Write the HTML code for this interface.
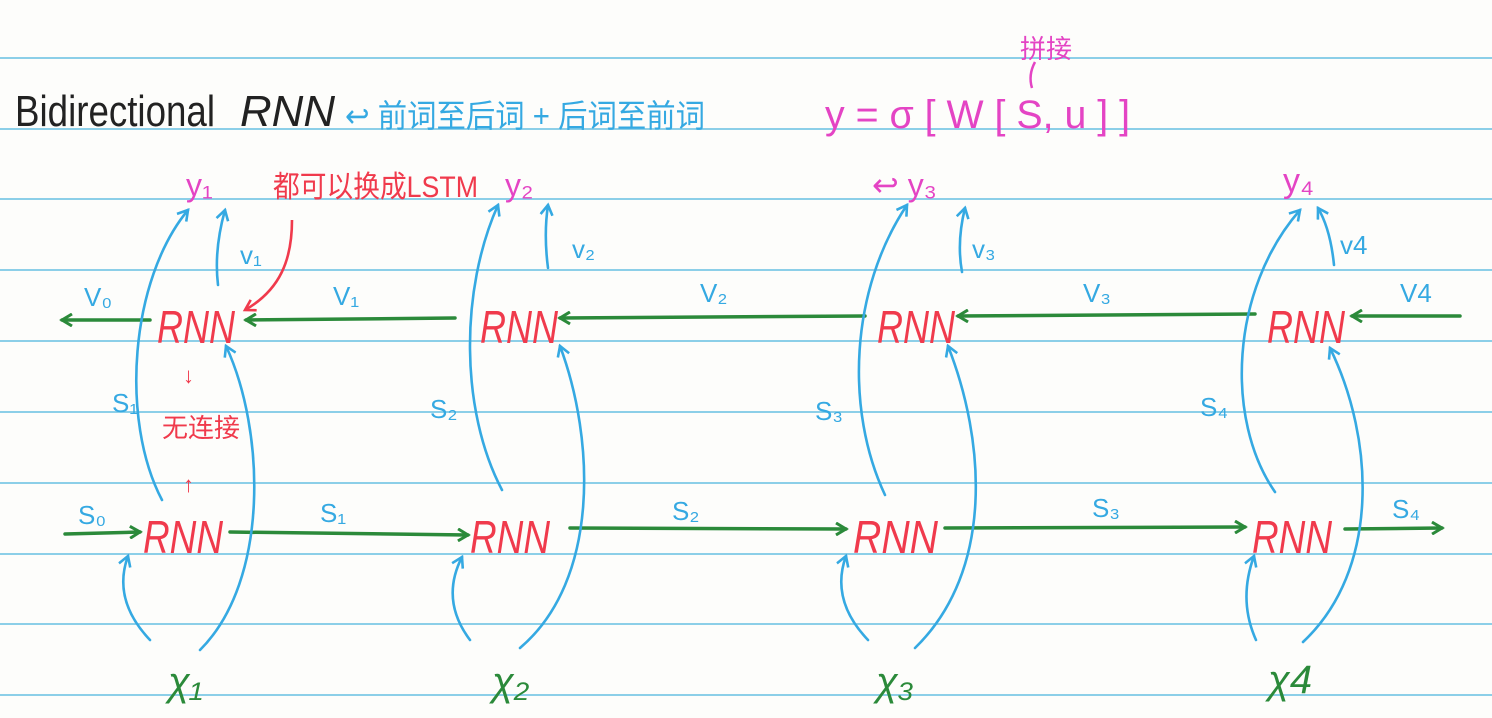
<!DOCTYPE html>
<html><head><meta charset="utf-8"><style>
html,body{margin:0;padding:0;background:#fdfdfb;}
svg{display:block;}
text{font-family:"Liberation Sans","Noto Sans CJK SC",sans-serif;}
.rnn{fill:#f03a4c;font-size:46px;font-style:italic;}
.g{stroke:#2b8a3a;stroke-width:3.5;fill:none;stroke-linecap:round;}
.b{stroke:#35a9e2;stroke-width:2.6;fill:none;stroke-linecap:round;}
.bl{fill:#35a9e2;font-size:26px;}
.pk{fill:#e444c4;}
.gl{fill:#2b8a3a;font-size:40px;font-style:italic;}
</style></head><body>
<svg width="1492" height="718" viewBox="0 0 1492 718" xmlns="http://www.w3.org/2000/svg">
<defs>
<marker id="ag" markerWidth="14" markerHeight="14" refX="11" refY="7" orient="auto" markerUnits="userSpaceOnUse"><polyline points="1,1 11,7 1,13" fill="none" stroke="#2b8a3a" stroke-width="3"/></marker>
<marker id="ab" markerWidth="14" markerHeight="14" refX="11" refY="7" orient="auto" markerUnits="userSpaceOnUse"><polyline points="1,1 11,7 1,13" fill="none" stroke="#35a9e2" stroke-width="2.6"/></marker>
<marker id="ar" markerWidth="14" markerHeight="14" refX="11" refY="7" orient="auto" markerUnits="userSpaceOnUse"><polyline points="1,1 11,7 1,13" fill="none" stroke="#f03a4c" stroke-width="2.6"/></marker>
</defs>
<g stroke="#7cc8e6" stroke-width="1.8">
<line x1="0" y1="58" x2="1492" y2="58"/><line x1="0" y1="129" x2="1492" y2="129"/>
<line x1="0" y1="199" x2="1492" y2="199"/><line x1="0" y1="270" x2="1492" y2="270"/>
<line x1="0" y1="341" x2="1492" y2="341"/><line x1="0" y1="412" x2="1492" y2="412"/>
<line x1="0" y1="483" x2="1492" y2="483"/><line x1="0" y1="554" x2="1492" y2="554"/>
<line x1="0" y1="624" x2="1492" y2="624"/><line x1="0" y1="695" x2="1492" y2="695"/>
</g>
<text x="15" y="126" font-size="44" fill="#222" textLength="200" lengthAdjust="spacingAndGlyphs">Bidirectional</text>
<text x="240" y="126" font-size="44" fill="#222" font-style="italic" textLength="95" lengthAdjust="spacingAndGlyphs">RNN</text>
<text x="345" y="127" font-size="32" fill="#35a9e2" textLength="360" lengthAdjust="spacingAndGlyphs">↩ 前词至后词 + 后词至前词</text>
<text x="825" y="128" font-size="40" class="pk" textLength="305" lengthAdjust="spacingAndGlyphs">y = σ [ W [ S, u ] ]</text>
<text x="1020" y="58" font-size="26" class="pk">拼接</text>
<path d="M1035,62 Q1028,75 1032,88" stroke="#e444c4" stroke-width="2.5" fill="none"/>
<text x="186" y="196" font-size="32" class="pk">y₁</text>
<text x="505" y="196" font-size="32" class="pk">y₂</text>
<text x="872" y="196" font-size="32" class="pk">↩ y₃</text>
<text x="1283" y="192" font-size="34" class="pk">y₄</text>
<text x="273" y="197" font-size="30" fill="#f03a4c" textLength="205" lengthAdjust="spacingAndGlyphs">都可以换成LSTM</text>
<path d="M292,220 C292,260 280,290 245,310" stroke="#f03a4c" stroke-width="2.6" fill="none" marker-end="url(#ar)"/>
<text x="183" y="383" font-size="22" fill="#f03a4c">↓</text>
<text x="162" y="437" font-size="26" fill="#f03a4c">无连接</text>
<text x="183" y="492" font-size="22" fill="#f03a4c">↑</text>
<text x="157" y="343" class="rnn" textLength="78" lengthAdjust="spacingAndGlyphs">RNN</text>
<text x="480" y="343" class="rnn" textLength="78" lengthAdjust="spacingAndGlyphs">RNN</text>
<text x="877" y="343" class="rnn" textLength="78" lengthAdjust="spacingAndGlyphs">RNN</text>
<text x="1267" y="343" class="rnn" textLength="78" lengthAdjust="spacingAndGlyphs">RNN</text>
<text x="143" y="553" class="rnn" textLength="80" lengthAdjust="spacingAndGlyphs">RNN</text>
<text x="470" y="553" class="rnn" textLength="80" lengthAdjust="spacingAndGlyphs">RNN</text>
<text x="853" y="553" class="rnn" textLength="85" lengthAdjust="spacingAndGlyphs">RNN</text>
<text x="1252" y="553" class="rnn" textLength="80" lengthAdjust="spacingAndGlyphs">RNN</text>
<path class="g" d="M150,320 L62,320" marker-end="url(#ag)"/>
<path class="g" d="M455,318 L246,320" marker-end="url(#ag)"/>
<path class="g" d="M865,316 L560,318" marker-end="url(#ag)"/>
<path class="g" d="M1255,314 L958,316" marker-end="url(#ag)"/>
<path class="g" d="M1460,316 L1352,316" marker-end="url(#ag)"/>
<text class="bl" x="84" y="306">V₀</text>
<text class="bl" x="333" y="305" font-size="30">V₁</text>
<text class="bl" x="700" y="302" font-size="30">V₂</text>
<text class="bl" x="1083" y="302" font-size="30">V₃</text>
<text class="bl" x="1400" y="302" font-size="32">V4</text>
<path class="g" d="M65,534 L140,532" marker-end="url(#ag)"/>
<path class="g" d="M230,532 L468,535" marker-end="url(#ag)"/>
<path class="g" d="M570,528 L846,529" marker-end="url(#ag)"/>
<path class="g" d="M945,528 L1245,527" marker-end="url(#ag)"/>
<path class="g" d="M1345,529 L1442,528" marker-end="url(#ag)"/>
<text class="bl" x="78" y="524">S₀</text>
<text class="bl" x="320" y="522" font-size="30">S₁</text>
<text class="bl" x="672" y="520" font-size="30">S₂</text>
<text class="bl" x="1092" y="517" font-size="30">S₃</text>
<text class="bl" x="1392" y="518" font-size="30">S₄</text>
<text class="gl" x="168" y="695">χ₁</text>
<text class="gl" x="492" y="695">χ₂</text>
<text class="gl" x="876" y="695">χ₃</text>
<text class="gl" x="1268" y="693">χ4</text>
<g class="b">
<path d="M150,640 Q112,600 128,556" marker-end="url(#ab)"/>
<path d="M200,650 C270,580 265,430 226,346" marker-end="url(#ab)"/>
<path d="M162,500 C120,420 130,280 188,210" marker-end="url(#ab)"/>
<path d="M218,285 C215,260 218,235 225,210" marker-end="url(#ab)"/>
<path d="M470,640 Q440,600 462,557" marker-end="url(#ab)"/>
<path d="M520,648 C600,580 595,440 560,346" marker-end="url(#ab)"/>
<path d="M502,490 C460,410 460,290 498,205" marker-end="url(#ab)"/>
<path d="M548,268 C545,245 545,225 548,205" marker-end="url(#ab)"/>
<path d="M868,640 Q830,600 846,556" marker-end="url(#ab)"/>
<path d="M915,648 C995,570 985,440 948,346" marker-end="url(#ab)"/>
<path d="M885,495 C845,410 850,290 907,205" marker-end="url(#ab)"/>
<path d="M962,272 C958,250 960,228 965,208" marker-end="url(#ab)"/>
<path d="M1256,640 Q1238,600 1254,556" marker-end="url(#ab)"/>
<path d="M1303,642 C1380,570 1375,440 1330,348" marker-end="url(#ab)"/>
<path d="M1275,492 C1225,420 1230,290 1300,210" marker-end="url(#ab)"/>
<path d="M1334,265 C1332,245 1328,225 1318,208" marker-end="url(#ab)"/>
</g>
<text class="bl" x="112" y="412">S₁</text>
<text class="bl" x="430" y="418">S₂</text>
<text class="bl" x="815" y="420">S₃</text>
<text class="bl" x="1200" y="416">S₄</text>
<text class="bl" x="240" y="264" font-size="22">v₁</text>
<text class="bl" x="572" y="258" font-size="22">v₂</text>
<text class="bl" x="972" y="258" font-size="24">v₃</text>
<text class="bl" x="1340" y="254" font-size="24">v4</text>
</svg>
</body></html>
